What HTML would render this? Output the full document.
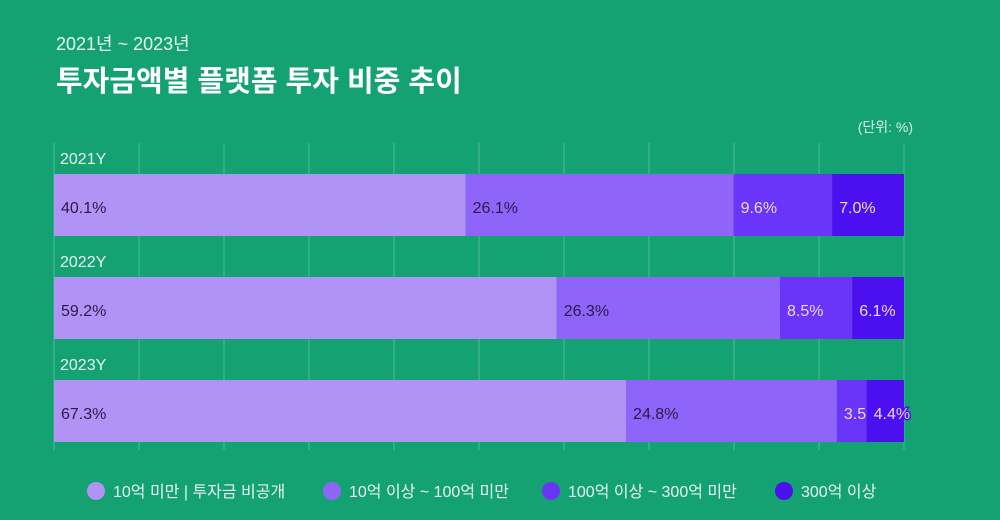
<!DOCTYPE html>
<html><head><meta charset="utf-8"><style>
body{margin:0;width:1000px;height:520px;background:#15a273;overflow:hidden;font-family:"Liberation Sans","Noto Sans CJK KR",sans-serif}
svg{position:absolute;left:0;top:0}
</style></head><body>
<svg id="c" width="1000" height="520" font-family="Liberation Sans, Noto Sans CJK KR, sans-serif">
<text x="56" y="50" font-size="18" fill="#e6f5ee">2021년 ~ 2023년</text>
<text x="56" y="91" font-size="29" font-weight="bold" fill="#ffffff">투자금액별 플랫폼 투자 비중 추이</text>
<text x="913" y="132" font-size="14" fill="#d8efe6" text-anchor="end">(단위: %)</text>
<g id="grid"></g><g id="bars"></g><g id="legend"></g>
</svg>
<script>
const years=["2021Y","2022Y","2023Y"];
const seriesNames=["10억 미만 | 투자금 비공개","10억 이상 ~ 100억 미만","100억 이상 ~ 300억 미만","300억 이상"];
const s1=[40.1,59.2,67.3];
const s2=[26.1,26.3,24.8];
const s3=[9.6,8.5,3.5];
const s4=[7.0,6.1,4.4];
const colors=["#b093f5","#8f64f8","#6a35f8","#4b0ff0"];
const textColors=["#2a1a4a","#2a1a4a","#e6dcff","#e6dcff"];
const NS="http://www.w3.org/2000/svg";
const X0=54,W=850;
const xs=p=>X0+p/100*W;
const rowTop=[174,277,380],BH=62;
const grid=document.getElementById('grid');
for(let i=0;i<=10;i++){const l=document.createElementNS(NS,'line');


const x=xs(i*10);l.setAttribute('x1',x);l.setAttribute('x2',x);l.setAttribute('y1',143);l.setAttribute('y2',450);
l.setAttribute('stroke','rgba(255,255,255,0.25)');l.setAttribute('stroke-width','1');grid.appendChild(l);}
const bars=document.getElementById('bars');
const all=[s1,s2,s3,s4];
years.forEach((y,r)=>{
const t=document.createElementNS(NS,'text');


t.setAttribute('x',60);t.setAttribute('y',rowTop[r]-10);t.setAttribute('font-size','16');t.setAttribute('fill','#e6f5ee');t.textContent=y;bars.appendChild(t);
const tot=all.reduce((a,s)=>a+s[r],0);let acc=0;
all.forEach((s,k)=>{const v=s[r];const x1=xs(acc/tot*100);acc+=v;const x2=xs(acc/tot*100);
const rc=document.createElementNS(NS,'rect');


rc.setAttribute('x',x1);rc.setAttribute('y',rowTop[r]);rc.setAttribute('width',x2-x1);rc.setAttribute('height',BH);rc.setAttribute('fill',colors[k]);bars.appendChild(rc);
const lb=document.createElementNS(NS,'text');


lb.setAttribute('x',x1+7);lb.setAttribute('y',rowTop[r]+39);lb.setAttribute('font-size','16');lb.setAttribute('fill',textColors[k]);
if(k>=2){lb.setAttribute('stroke',colors[k]);lb.setAttribute('stroke-width','3');lb.setAttribute('paint-order','stroke');}
lb.textContent=v.toFixed(1)+'%';bars.appendChild(lb);});
});
const lg=document.getElementById('legend');
const lx=[96,332,551,784];
seriesNames.forEach((n,k)=>{
const c=document.createElementNS(NS,'circle');


c.setAttribute('cx',lx[k]);c.setAttribute('cy',491);c.setAttribute('r',9);c.setAttribute('fill',colors[k]);lg.appendChild(c);
const t=document.createElementNS(NS,'text');


t.setAttribute('x',lx[k]+17);t.setAttribute('y',497);t.setAttribute('font-size','16');t.setAttribute('fill','#e6f5ee');t.textContent=n;lg.appendChild(t);});
</script>
</body></html>
